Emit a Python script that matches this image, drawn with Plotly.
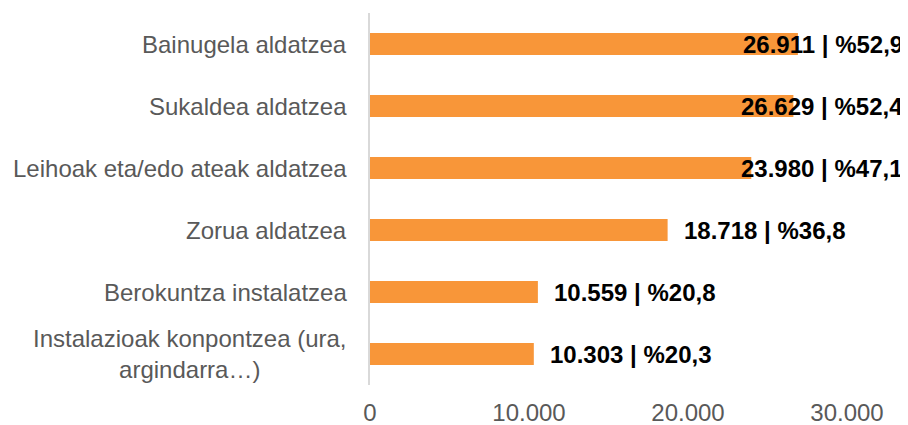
import plotly.graph_objects as go

categories = [
    "Bainugela aldatzea",
    "Sukaldea aldatzea",
    "Leihoak eta/edo ateak aldatzea",
    "Zorua aldatzea",
    "Berokuntza instalatzea",
    "Instalazioak konpontzea (ura,<br>argindarra…)",
]
values = [26911, 26629, 23980, 18718, 10559, 10303]
percents = [52.9, 52.4, 47.1, 36.8, 20.8, 20.3]
tick_vals = [0, 10000, 20000, 30000]
tick_text = ["0", "10.000", "20.000", "30.000"]

# page body has an 8px margin, so the figure is 8px smaller on each axis
W, H = 900, 417
ML, MR, MT, MB = 362, 61, 5, 40
XMAX = 30000
plot_w = W - ML - MR
FONT = "Liberation Sans, Arial, sans-serif"
BAR = "#F89639"
GRAY = "#595959"
LBL_SIZE = 24
CAT_SIZE = 24

# approximate Arial-bold glyph widths (em) for label fitting
cw = {c: 0.556 for c in "0123456789"}
cw.update({".": 0.278, ",": 0.278, " ": 0.278, "|": 0.28, "%": 0.889})


def fmt_int(v):
    return f"{v:,}".replace(",", ".")


def fmt_pct(p):
    return f"{p:.1f}".replace(".", ",")


fig = go.Figure()
fig.add_trace(go.Bar(
    y=categories, x=values, orientation="h",
    marker=dict(color=BAR, line=dict(width=0)),
    hoverinfo="skip",
))

annotations = []
right_limit_px = W - 3 - ML  # chart-area right edge relative to plot left
for cat, v, p in zip(categories, values, percents):
    txt = f"{fmt_int(v)} | %{fmt_pct(p)}"
    tw = sum(cw.get(c, 0.556) for c in txt) * LBL_SIZE
    end_px = v / XMAX * plot_w
    if end_px + 16 + tw > right_limit_px:
        annotations.append(dict(
            xref="paper", yref="y", x=right_limit_px / plot_w, y=cat,
            xanchor="right", yanchor="middle", text=f"<b>{txt}</b>",
            showarrow=False, font=dict(family=FONT, size=LBL_SIZE, color="#000000"),
        ))
    else:
        annotations.append(dict(
            xref="x", yref="y", x=v, y=cat, xshift=14,
            xanchor="left", yanchor="middle", text=f"<b>{txt}</b>",
            showarrow=False, font=dict(family=FONT, size=LBL_SIZE, color="#000000"),
        ))
    annotations.append(dict(
        xref="paper", yref="y", x=0, y=cat, xshift=-21,
        xanchor="right", yanchor="middle", align="center", text=cat,
        showarrow=False, font=dict(family=FONT, size=CAT_SIZE, color=GRAY),
    ))

fig.update_layout(
    width=W, height=H,
    margin=dict(l=ML, r=MR, t=MT, b=MB, pad=0, autoexpand=False),
    paper_bgcolor="white", plot_bgcolor="white",
    showlegend=False, bargap=0.645,
    annotations=annotations,
    xaxis=dict(
        range=[0, XMAX], tickvals=tick_vals, ticktext=tick_text,
        showgrid=False, zeroline=False, showline=False, ticks="",
        tickfont=dict(family=FONT, size=CAT_SIZE, color=GRAY),
        ticklabelstandoff=11, fixedrange=True, automargin=False,
    ),
    yaxis=dict(
        categoryorder="array", categoryarray=categories, autorange="reversed",
        showticklabels=False, showgrid=False, zeroline=False,
        showline=True, linecolor="#D9D9D9", linewidth=2, ticks="",
        fixedrange=True, automargin=False,
    ),
)

fig.write_html("out.html")
